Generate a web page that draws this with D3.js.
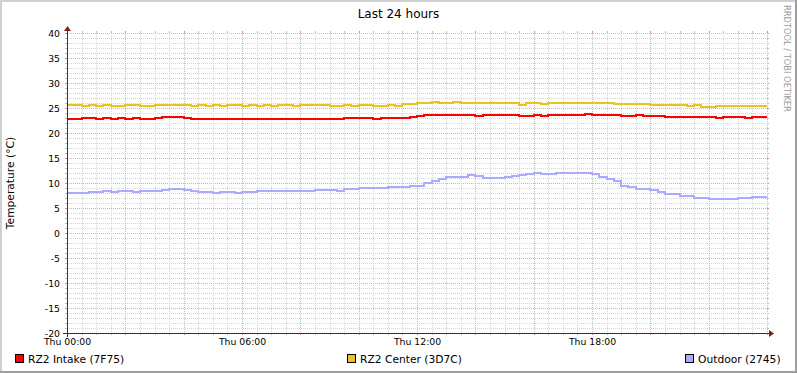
<!DOCTYPE html>
<html lang="en">
<head>
    <meta charset="UTF-8">
    <title>Last 24 hours</title>
    <script src="https://cdn.jsdelivr.net/npm/d3@7"></script>
    <style>
        body {
            margin: 0;
            background: #fff;
        }
        svg {
            display: block;
            font-family: "DejaVu Sans", sans-serif;
        }
        .minor { stroke: #d4d4d4; stroke-dasharray: 1,1; }
        .major { stroke: #eaaaaa; stroke-dasharray: 1,1; }
        .tick-minor { stroke: #bdbdbd; }
        .tick-major { stroke: #e08888; }
    </style>
</head>
<body>
    <svg id="chart" width="797" height="373"></svg>

    <script>
        // samples every 15 minutes, Thu 00:00 -> Fri 00:00
        const startTime = new Date(2010, 0, 7, 0, 0);
        const stepMinutes = 15;

        const seriesNames = ["RZ2 Intake (7F75)", "RZ2 Center (3D7C)", "Outdoor (2745)"];
        const seriesColors = ["#ff0000", "#ebc21e", "#aaaaff"];

        const intake = [
            22.9, 22.9, 23.05, 23.05, 22.9, 23.05, 22.9, 23.05, 22.9, 23.05,
            22.9, 22.9, 23.05, 23.1, 23.1, 23.1, 23.05, 22.9, 22.9, 22.9,
            22.9, 22.9, 22.9, 22.9, 22.9, 22.9, 22.9, 22.9, 22.9, 22.9,
            22.9, 22.9, 22.9, 22.9, 22.9, 22.9, 22.9, 22.9, 23.05, 23.05,
            23.05, 22.95, 22.9, 22.95, 22.95, 23.0, 23.05, 23.25, 23.45, 23.6,
            23.6, 23.6, 23.55, 23.6, 23.6, 23.6, 23.5, 23.6, 23.6, 23.6,
            23.53, 23.6, 23.47, 23.47, 23.6, 23.5, 23.6, 23.53, 23.53, 23.6,
            23.6, 23.75, 23.6, 23.6, 23.6, 23.6, 23.47, 23.47, 23.55, 23.47,
            23.47, 23.47, 23.27, 23.13, 23.13, 23.13, 23.2, 23.13, 23.13, 23.0,
            23.13, 23.13, 23.13, 23.0, 23.13, 23.13, 23.13
        ];
        const center = [
            25.53, 25.53, 25.35, 25.53, 25.35, 25.53, 25.4, 25.4, 25.53, 25.53,
            25.4, 25.4, 25.53, 25.53, 25.53, 25.53, 25.53, 25.4, 25.53, 25.4,
            25.53, 25.4, 25.53, 25.53, 25.4, 25.53, 25.4, 25.53, 25.4, 25.53,
            25.53, 25.4, 25.53, 25.53, 25.53, 25.53, 25.4, 25.4, 25.67, 25.47,
            25.6, 25.6, 25.47, 25.47, 25.6, 25.4, 25.87, 25.87, 26.07, 26.07,
            26.27, 26.07, 26.07, 26.15, 26.0, 25.93, 25.93, 25.93, 26.07, 25.93,
            25.93, 25.93, 25.67, 26.0, 26.0, 25.73, 26.07, 26.07, 26.07, 26.07,
            26.07, 26.07, 26.0, 26.07, 26.0, 25.8, 25.8, 25.8, 25.8, 25.8,
            25.6, 25.6, 25.53, 25.53, 25.6, 25.47, 25.53, 25.27, 25.27, 25.33,
            25.4, 25.4, 25.4, 25.33, 25.33, 25.33, 25.33
        ];
        const outdoor = [
            8.07, 7.93, 8.07, 8.2, 8.2, 8.33, 8.27, 8.33, 8.33, 8.27,
            8.33, 8.33, 8.4, 8.67, 8.8, 8.8, 8.67, 8.4, 8.13, 8.13,
            8.0, 8.13, 8.13, 8.0, 8.27, 8.27, 8.4, 8.4, 8.4, 8.4,
            8.4, 8.4, 8.47, 8.4, 8.53, 8.53, 8.53, 8.4, 8.73, 8.73,
            8.93, 8.93, 9.07, 9.07, 9.2, 9.27, 9.27, 9.4, 9.4, 10.07,
            10.47, 10.73, 11.27, 11.27, 11.27, 11.6, 11.4, 10.93, 10.93, 10.93,
            11.13, 11.4, 11.6, 11.8, 12.0, 11.73, 11.73, 12.0, 12.0, 11.93,
            12.0, 12.0, 11.73, 11.27, 10.8, 10.4, 9.47, 9.13, 8.8, 8.8,
            8.6, 8.13, 7.73, 7.73, 7.4, 7.4, 7.07, 7.07, 6.73, 6.73,
            6.73, 6.87, 7.0, 7.0, 7.2, 7.2, 7.27
        ];

        const yDomain = [-20, 40];

        // plot area
        const x0 = 67, y0 = 333, plotW = 700, plotH = 300;
        const W = 797, H = 373;

        const svg = d3.select("#chart");
        const endTime = d3.timeHour.offset(startTime, 24);
        const timeAt = i => d3.timeMinute.offset(startTime, i * stepMinutes);

        const x = d3.scaleTime().domain([startTime, endTime]).range([x0, x0 + plotW]);
        const y = d3.scaleLinear().domain(yDomain).range([y0, y0 - plotH]);

        // background + 3D frame
        svg.append("rect").attr("width", W).attr("height", H).attr("fill", "#fff");
        svg.append("path").attr("d", `M0,${H} V0 H${W}`).attr("fill", "none")
            .attr("stroke", "#cfcfcf").attr("stroke-width", 4);
        svg.append("path").attr("d", `M0,${H} H${W} V0`).attr("fill", "none")
            .attr("stroke", "#9e9e9e").attr("stroke-width", 4);

        const grid = svg.append("g").attr("shape-rendering", "crispEdges");

        // horizontal grid
        const yVals = d3.range(yDomain[0], yDomain[1] + 1);
        yVals.forEach(v => {
            const py = Math.round(y(v)) + 0.5;
            const isMajor = v % 5 === 0;
            grid.append("line").attr("class", isMajor ? "major" : "minor")
                .attr("x1", x0 - 2).attr("x2", x0 + plotW + 2).attr("y1", py).attr("y2", py);
            grid.append("line").attr("class", isMajor ? "tick-major" : "tick-minor")
                .attr("x1", x0 - 2).attr("x2", x0).attr("y1", py).attr("y2", py);
            grid.append("line").attr("class", isMajor ? "tick-major" : "tick-minor")
                .attr("x1", x0 + plotW).attr("x2", x0 + plotW + 2).attr("y1", py).attr("y2", py);
        });

        // vertical grid: minor 30 min, major 2 h
        const xVals = d3.timeMinute.every(30).range(startTime, d3.timeMinute.offset(endTime, 1));
        xVals.forEach(t => {
            const px = Math.round(x(t)) + 0.5;
            const isMajor = t.getMinutes() === 0 && t.getHours() % 2 === 0;
            grid.append("line").attr("class", isMajor ? "major" : "minor")
                .attr("x1", px).attr("x2", px).attr("y1", y0 - plotH).attr("y2", y0);
            grid.append("line").attr("class", isMajor ? "tick-major" : "tick-minor")
                .attr("x1", px).attr("x2", px).attr("y1", y0).attr("y2", y0 + 2);
            grid.append("line").attr("class", isMajor ? "tick-major" : "tick-minor")
                .attr("x1", px).attr("x2", px).attr("y1", y0 - plotH - 2).attr("y2", y0 - plotH);
        });

        // data lines
        const line = d3.line()
            .x((d, i) => x(timeAt(i)))
            .y(d => Math.round(y(d)))
            .curve(d3.curveStepAfter);

        [intake, center, outdoor].forEach((values, k) => {
            svg.append("path")
                .datum(values)
                .attr("d", line)
                .attr("fill", "none")
                .attr("stroke", seriesColors[k])
                .attr("stroke-width", 2)
                .attr("shape-rendering", "crispEdges");
        });

        // axes
        const axisColor = "#3a3030", arrowColor = "#801f1f";
        svg.append("line").attr("x1", x0 - 4).attr("x2", x0 + plotW + 4)
            .attr("y1", y0 + 0.5).attr("y2", y0 + 0.5)
            .attr("stroke", axisColor).attr("shape-rendering", "crispEdges");
        svg.append("line").attr("x1", x0 + 0.5).attr("x2", x0 + 0.5)
            .attr("y1", y0 + 4).attr("y2", y0 - plotH - 4)
            .attr("stroke", axisColor).attr("shape-rendering", "crispEdges");
        svg.append("path")
            .attr("d", `M${x0 + plotW + 2},${y0 - 3} L${x0 + plotW + 2},${y0 + 4} L${x0 + plotW + 7},${y0 + 0.5} Z`)
            .attr("fill", arrowColor);
        svg.append("path")
            .attr("d", `M${x0 - 3},${y0 - plotH - 2} L${x0 + 4},${y0 - plotH - 2} L${x0 + 0.5},${y0 - plotH - 7} Z`)
            .attr("fill", arrowColor);

        // y tick labels
        svg.append("g").selectAll("text")
            .data(y.ticks(12))
            .join("text")
            .attr("x", 60)
            .attr("y", d => y(d) + 0.5)
            .attr("dy", "0.36em")
            .attr("text-anchor", "end")
            .attr("font-size", 9.3)
            .attr("fill", "#000")
            .text(d => d);

        // x tick labels every 6 h
        const fmt = d3.timeFormat("%a %H:%M");
        svg.append("g").selectAll("text")
            .data(d3.timeHour.every(6).range(startTime, endTime))
            .join("text")
            .attr("x", d => x(d) + 0.5)
            .attr("y", 345)
            .attr("text-anchor", "middle")
            .attr("font-size", 9.3)
            .attr("fill", "#000")
            .text(d => fmt(d));

        // title
        svg.append("text")
            .attr("x", W / 2)
            .attr("y", 18)
            .attr("text-anchor", "middle")
            .attr("font-size", 12)
            .text("Last 24 hours");

        // vertical axis label
        svg.append("text")
            .attr("transform", `translate(14,${y0 - plotH / 2}) rotate(-90)`)
            .attr("text-anchor", "middle")
            .attr("font-size", 10.7)
            .text("Temperature (°C)");

        // watermark
        svg.append("text")
            .attr("transform", "translate(784,5) rotate(90)")
            .attr("font-size", 8.3)
            .attr("fill", "#9a9a9a")
            .text("RRDTOOL / TOBI OETIKER");

        // legend, justified across the width
        const legend = svg.append("g");
        const items = seriesNames.map((name, k) => {
            const g = legend.append("g");
            g.append("rect")
                .attr("x", 0.5).attr("y", 354.5)
                .attr("width", 8).attr("height", 8)
                .attr("fill", seriesColors[k])
                .attr("stroke", "#000")
                .attr("shape-rendering", "crispEdges");
            const t = g.append("text")
                .attr("x", 13)
                .attr("y", 362.5)
                .attr("font-size", 10.7)
                .text(name);
            return { g, w: 13 + t.node().getComputedTextLength() };
        });
        const left = 15, right = 781;
        const total = d3.sum(items, d => d.w);
        const gap = (right - left - total) / (items.length - 1);
        let cx = left;
        items.forEach(it => {
            it.g.attr("transform", `translate(${Math.round(cx)},0)`);
            cx += it.w + gap;
        });
    </script>
</body>
</html>
